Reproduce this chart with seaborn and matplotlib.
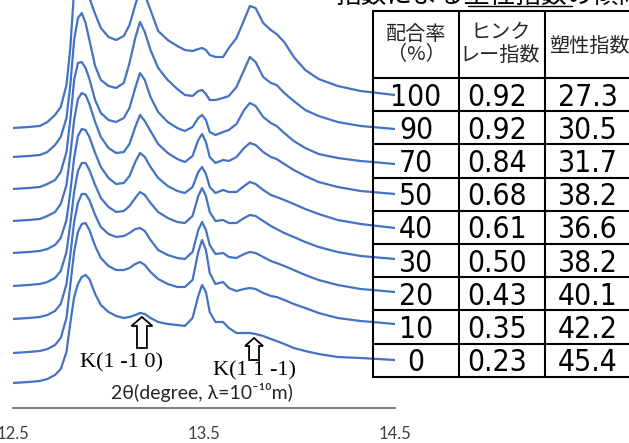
import numpy as np
import pandas as pd
import matplotlib
matplotlib.use("Agg")
import matplotlib.pyplot as plt
import seaborn as sns
from matplotlib.lines import Line2D
from matplotlib.patches import FancyArrow
from matplotlib import font_manager as fm

# ---------------- data ----------------
two_theta = [12.50, 12.58, 12.64, 12.68, 12.72, 12.75, 12.78, 12.80, 12.82, 12.84,
             12.86, 12.88, 12.90, 12.93, 12.96, 13.00, 13.04, 13.08, 13.11, 13.14,
             13.165, 13.19, 13.22, 13.26, 13.31, 13.36, 13.40, 13.44, 13.47, 13.49,
             13.51, 13.53, 13.56, 13.60, 13.63, 13.67, 13.71, 13.74, 13.77, 13.81,
             13.85, 13.88, 13.92, 13.97, 14.03, 14.10, 14.20, 14.32, 14.50]

rates = [100, 90, 70, 50, 40, 30, 20, 10, 0]

curve_100 = [280, 281, 282, 286, 293, 301, 323, 360, 418, 438, 443, 433, 410, 394, 380,
             371, 368, 372, 383, 403, 418, 413, 398, 377, 368, 362, 358, 357, 359, 360,
             358, 353, 351, 351, 360, 370, 388, 402, 400, 385, 378, 374, 366, 351, 338,
             329, 322, 317, 313]
curve_90 = [251, 252, 253, 256, 263, 271, 290, 323, 368, 390, 395, 385, 368, 342, 328,
            322, 320, 325, 345, 370, 386, 376, 358, 340, 328, 319, 313, 312, 317, 318,
            314, 308, 308, 310, 312, 321, 338, 351, 346, 331, 325, 323, 315, 307, 298,
            292, 286, 282, 279]
curve_70 = [219, 220, 221, 224, 228, 236, 256, 288, 328, 345, 346, 340, 329, 308, 295,
            288, 286, 290, 300, 320, 335, 328, 311, 296, 286, 280, 277, 281, 290, 293,
            288, 276, 273, 276, 278, 284, 298, 305, 302, 291, 285, 282, 275, 267, 260,
            254, 250, 247, 244]
curve_50 = [187, 188, 189, 192, 196, 204, 223, 253, 288, 309, 315, 313, 304, 286, 271,
            260, 255, 256, 264, 281, 293, 287, 277, 264, 255, 249, 246, 252, 268, 274,
            266, 251, 245, 248, 247, 251, 260, 265, 263, 256, 251, 249, 244, 238, 232,
            226, 221, 217, 214]
curve_40 = [155, 156, 157, 159, 163, 170, 188, 216, 250, 272, 279, 278, 271, 255, 241,
            230, 224, 225, 232, 246, 255, 251, 241, 230, 222, 217, 215, 221, 236, 241,
            234, 221, 215, 218, 216, 216, 222, 226, 224, 218, 213, 211, 208, 204, 199,
            194, 188, 184, 180]
curve_30 = [122, 123, 124, 126, 130, 137, 156, 184, 216, 237, 245, 245, 238, 223, 210,
            201, 196, 197, 202, 210, 216, 213, 205, 196, 190, 186, 185, 192, 212, 220,
            212, 196, 187, 188, 185, 185, 190, 193, 192, 187, 182, 179, 175, 171, 166,
            161, 156, 152, 149]
curve_20 = [89, 90, 91, 93, 97, 104, 124, 153, 186, 205, 214, 214, 208, 193, 181,
            174, 171, 172, 175, 179, 180, 177, 168, 158, 153, 150, 149, 156, 178, 186,
            178, 163, 154, 155, 151, 150, 154, 156, 155, 151, 147, 145, 142, 138, 133,
            128, 123, 119, 116]
curve_10 = [55, 56, 57, 59, 63, 70, 90, 123, 156, 176, 184, 185, 178, 162, 150,
            142, 138, 138, 140, 144, 146, 143, 136, 129, 124, 121, 121, 128, 156, 168,
            158, 135, 124, 126, 120, 117, 119, 120, 119, 115, 112, 111, 108, 104, 100,
            95, 90, 87, 84]
curve_0 = [25, 26, 27, 29, 33, 39, 56, 85, 111, 124, 131, 133, 129, 114, 103,
           96, 92, 90, 91, 93, 95, 94, 90, 86, 84, 83, 82, 90, 112, 123,
           116, 96, 86, 86, 80, 75, 75, 75, 74, 72, 69, 67, 64, 60, 57,
           54, 51, 50, 48]

curves = [curve_100, curve_90, curve_70, curve_50, curve_40,
          curve_30, curve_20, curve_10, curve_0]

hinckley = ["0.92", "0.92", "0.84", "0.68", "0.61", "0.50", "0.43", "0.35", "0.23"]
plasticity = ["27.3", "30.5", "31.7", "38.2", "36.6", "38.2", "40.1", "42.2", "45.4"]
rate_labels = [str(r) for r in rates]

x_ticks = [12.5, 13.5, 14.5]
x_tick_labels = ["12.5", "13.5", "14.5"]
x_label = "2θ(degree, λ=10⁻¹⁰m)"
peak_labels = ["K(1 -1 0)", "K(1 1 -1)"]
peak_label_pos = [(13.07, 45), (13.767, 37)]
title_fragment = "指数による塑性指数の傾向"

BLUE = "#4472C4"

# ---------------- style ----------------
sns.set_style("white")
plt.rcParams["font.family"] = ["Lato", "DejaVu Sans"]

# pick a narrow font for the table numbers if one is installed
names = {f.name for f in fm.fontManager.ttflist}
cond_path = fm.findfont(fm.FontProperties(family="DejaVu Sans", stretch="condensed"))
if "Liberation Sans Narrow" in names:
    num_kw = dict(family=["Liberation Sans Narrow"], fontsize=23)
elif "condensed" in cond_path.lower():
    num_kw = dict(family=["DejaVu Sans"], fontstretch="condensed", fontsize=21.5)
else:
    num_kw = dict(family=["Liberation Sans", "DejaVu Sans"], fontsize=21)

W, H = 629, 443
fig = plt.figure(figsize=(W / 100, H / 100), dpi=100)
ax = fig.add_axes([13 / W, 35 / H, 382 / W, 408 / H])
ax.patch.set_alpha(0)

df = pd.DataFrame({
    "two_theta": np.tile(two_theta, len(rates)),
    "intensity": np.concatenate(curves),
    "rate": np.repeat(rates, len(two_theta)),
})

sns.lineplot(data=df, x="two_theta", y="intensity", units="rate",
             estimator=None, sort=False, color=BLUE, lw=1.6, ax=ax,
             legend=False)
for ln in ax.lines:
    ln.set_solid_joinstyle("round")

ax.set_xlim(12.5, 14.5)
ax.set_ylim(0, 408)
ax.set_xlabel("")
ax.set_ylabel("")
ax.set_yticks([])
ax.set_xticks(x_ticks)
ax.set_xticklabels(x_tick_labels, fontsize=12, color="#404040")
ax.tick_params(axis="x", direction="in", length=5, width=1.1,
               color="#595959", pad=13)
for s in ["left", "top", "right"]:
    ax.spines[s].set_visible(False)
ax.spines["bottom"].set_color("#595959")
ax.spines["bottom"].set_linewidth(1.1)

# axis label inside the plot
ax.text(13.49, 16, x_label, ha="center", va="center", fontsize=14,
        color="#262626")

# peak annotations
for lab, (px, py) in zip(peak_labels, peak_label_pos):
    ax.text(px, py, lab, ha="center", va="center", fontsize=16,
            family=["Liberation Serif", "DejaVu Serif"], color="black")
ax.add_patch(FancyArrow(13.175, 60, 0, 31, width=0.052, head_width=0.11,
                        head_length=9, length_includes_head=True,
                        fc="white", ec="black", lw=1.3, zorder=5))
ax.add_patch(FancyArrow(13.762, 48, 0, 22, width=0.052, head_width=0.094,
                        head_length=8, length_includes_head=True,
                        fc="white", ec="black", lw=1.3, zorder=5))

# ---------------- table ----------------
def fx(p):
    return p / W

def fy(p):
    return 1 - p / H

tbl_left, tbl_right = 373, 640
col_x = [373, 459, 545]
top, head_bot, row_h = 11, 78, 33.2
n = len(rates)
bottom = head_bot + n * row_h
for i in range(n + 2):
    yy = top if i == 0 else head_bot + (i - 1) * row_h
    fig.add_artist(Line2D([fx(tbl_left), fx(tbl_right)], [fy(yy), fy(yy)],
                          color="black", lw=1.5))
for xx in col_x:
    fig.add_artist(Line2D([fx(xx), fx(xx)], [fy(top), fy(bottom)],
                          color="black", lw=1.5))

cjk = ["Noto Sans CJK JP", "DejaVu Sans"]
fig.text(fx(416), fy(34), "配合率", ha="center", va="center", fontsize=14.5, family=cjk)
fig.text(fx(416), fy(55), "（%）", ha="center", va="center", fontsize=14.5, family=cjk)
fig.text(fx(501), fy(33), "ヒンク", ha="center", va="center", fontsize=14.5, family=cjk)
fig.text(fx(500), fy(55), "レー指数", ha="center", va="center", fontsize=14.5, family=cjk)
fig.text(fx(589), fy(46), "塑性指数", ha="center", va="center", fontsize=14.5, family=cjk)

col_centers = [416, 497, 588]
for i in range(n):
    yc = head_bot + (i + 0.5) * row_h
    for cx, txt in zip(col_centers, [rate_labels[i], hinckley[i], plasticity[i]]):
        fig.text(fx(cx), fy(yc + 11), txt, ha="center", va="baseline",
                 color="black", **num_kw)

# clipped title fragment at the very top
fig.text(fx(335), fy(3), title_fragment, ha="left", va="baseline",
         fontsize=18.5, family=cjk, color="black")
fig.add_artist(Line2D([fx(468), fx(572)], [fy(6), fy(6)], color="black", lw=1))

fig.savefig("out.png", dpi=100)
